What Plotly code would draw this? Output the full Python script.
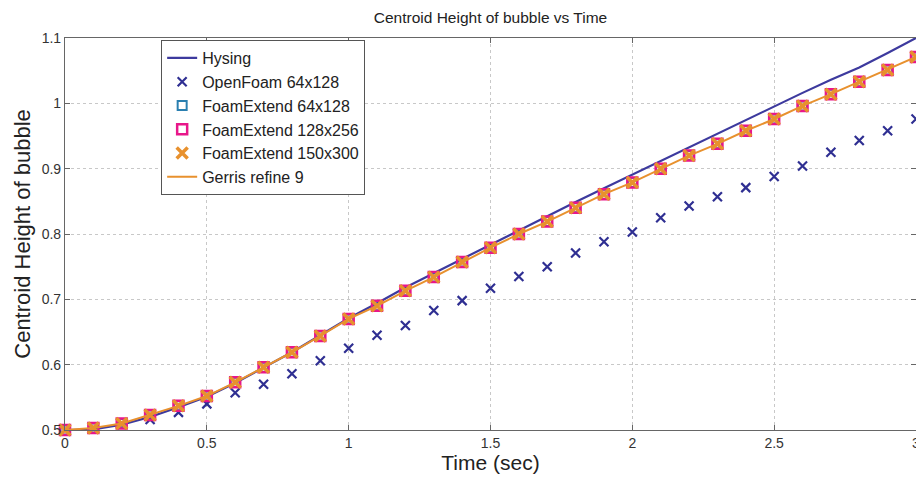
import plotly.graph_objects as go

t = [round(0.1 * i, 1) for i in range(31)]

hysing = [0.5, 0.501, 0.508, 0.520, 0.535, 0.551, 0.572, 0.595, 0.619, 0.645,
          0.671, 0.694, 0.718, 0.740, 0.762, 0.784, 0.806, 0.828, 0.849, 0.870,
          0.891, 0.912, 0.933, 0.953, 0.974, 0.995, 1.016, 1.036, 1.055, 1.077, 1.100]

openfoam = [0.5, 0.502, 0.508, 0.516, 0.527, 0.540, 0.557, 0.570, 0.586, 0.606,
            0.625, 0.645, 0.660, 0.683, 0.698, 0.717, 0.735, 0.750, 0.771, 0.788,
            0.803, 0.825, 0.843, 0.857, 0.871, 0.888, 0.904, 0.925, 0.943, 0.958, 0.976]

foamext = [0.5, 0.503, 0.510, 0.523, 0.537, 0.552, 0.573, 0.596, 0.619, 0.644,
           0.670, 0.690, 0.713, 0.734, 0.757, 0.779, 0.800, 0.819, 0.840, 0.861,
           0.879, 0.900, 0.920, 0.938, 0.958, 0.976, 0.996, 1.014, 1.033, 1.051, 1.071]

foamext128 = foamext
foamext150 = foamext
gerris = foamext

x_ticks = [0, 0.5, 1, 1.5, 2, 2.5, 3]
x_labels = ["0", "0.5", "1", "1.5", "2", "2.5", "3"]
y_ticks = [0.5, 0.6, 0.7, 0.8, 0.9, 1.0, 1.1]
y_labels = ["0.5", "0.6", "0.7", "0.8", "0.9", "1", "1.1"]

fig = go.Figure()
fig.add_trace(go.Scatter(x=t, y=hysing, mode="lines", name="Hysing",
                         line=dict(color="#3d3a9e", width=2.2)))
fig.add_trace(go.Scatter(x=t, y=openfoam, mode="markers", name="OpenFoam 64x128", cliponaxis=False,
                         marker=dict(symbol="x-thin", size=9, line=dict(color="#2f2f92", width=2.2))))
fig.add_trace(go.Scatter(x=t, y=foamext, mode="markers", name="FoamExtend 64x128", cliponaxis=False,
                         marker=dict(symbol="square-open", size=9, color="#2a7fb0", line=dict(width=2))))
fig.add_trace(go.Scatter(x=t, y=foamext128, mode="markers", name="FoamExtend 128x256", cliponaxis=False,
                         marker=dict(symbol="square-open", size=10, color="#e8178a", line=dict(width=2.5))))
fig.add_trace(go.Scatter(x=t, y=foamext150, mode="markers", name="FoamExtend 150x300", cliponaxis=False,
                         marker=dict(symbol="x-thin", size=11, line=dict(color="#e8912e", width=3.5))))
fig.add_trace(go.Scatter(x=t, y=gerris, mode="lines", name="Gerris refine 9",
                         line=dict(color="#e8912e", width=2)))

axis_common = dict(showline=True, mirror="ticks", linecolor="#666", linewidth=1.2,
                   ticks="inside", ticklen=5, tickcolor="#666",
                   showgrid=True, gridcolor="#c8c8c8", griddash="dot", gridwidth=1,
                   zeroline=False, tickfont=dict(size=14, color="#333"),
                   ticklabeloverflow="allow")

W, H = 916, 471
fig.update_layout(
    width=W, height=H,
    margin=dict(l=57, r=4, t=30, b=49),
    paper_bgcolor="white", plot_bgcolor="white",
    font=dict(family="Liberation Sans, Arial, sans-serif", color="#222"),
    title=dict(text="Centroid Height of bubble vs Time", x=0.5, xanchor="center",
               xref="paper", yref="container", y=(H - 10) / H, yanchor="middle",
               font=dict(size=15.5, family="Liberation Sans Narrow, Liberation Sans, Arial")),
    legend=dict(x=0.113, y=0.995, xanchor="left", yanchor="top",
                bgcolor="white", bordercolor="#555", borderwidth=1,
                font=dict(size=16, color="#222"), tracegroupgap=0, itemwidth=30),
    showlegend=True,
)
fig.update_xaxes(range=[0, 3], tickvals=x_ticks, ticktext=x_labels,
                 title=dict(text="Time (sec)", font=dict(size=21), standoff=0),
                 **axis_common)
fig.update_yaxes(range=[0.5, 1.1], tickvals=y_ticks, ticktext=y_labels,
                 title=dict(text="Centroid Height of bubble", font=dict(size=22), standoff=4),
                 **axis_common)

fig.write_html("out.html")
